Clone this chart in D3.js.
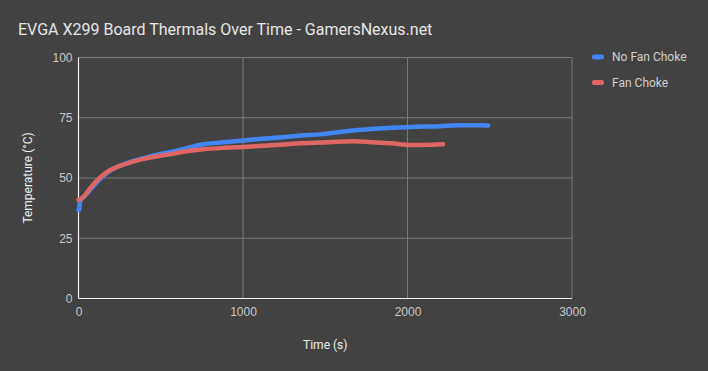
<!DOCTYPE html>
<meta charset="utf-8">
<style>
  body { margin: 0; background: #424242; }
  svg { display: block; font-family: Roboto, sans-serif; }
  .grid line { stroke: #7b7b7b; stroke-width: 1; }
  .tick text { fill: #c8c8c8; font-size: 12px; }
  .title { fill: #e6e6e6; font-size: 16px; }
  .axis-title { fill: #eeeeee; font-size: 12px; }
  .legend text { fill: #d0d0d0; font-size: 12px; }
</style>
<svg width="708" height="371"></svg>
<script src="https://d3js.org/d3.v7.min.js"></script>
<script>
// series: [time s, temperature °C]
var noFanChoke = [
  [0, 36.8], [5, 37], [8, 39.5], [15, 41], [33, 42.2], [74, 45.3],
  [125, 49.2], [175, 52.2], [277, 55.8], [378, 57.9], [479, 59.7],
  [560, 60.8], [650, 62.3], [760, 64], [880, 64.8], [1000, 65.6],
  [1130, 66.4], [1270, 67.1], [1350, 67.6], [1470, 68.1], [1550, 68.8],
  [1670, 69.7], [1800, 70.4], [2020, 71.2], [2200, 71.5], [2300, 71.9],
  [2490, 71.8]
];
var fanChoke = [
  [0, 41], [15, 41.3], [33, 42.4], [74, 46], [125, 49.8], [175, 52.5],
  [277, 55.6], [378, 57.6], [479, 59], [560, 59.9], [650, 61],
  [760, 61.9], [880, 62.5], [1000, 62.9], [1130, 63.4], [1270, 64],
  [1350, 64.4], [1470, 64.7], [1670, 65.2], [1800, 64.8], [1900, 64.4],
  [2015, 63.7], [2150, 63.8], [2216, 64]
];
var seriesNames = ["No Fan Choke", "Fan Choke"];
var seriesColors = ["#4285f4", "#e06666"];
var xTicks = [0, 1000, 2000, 3000];
var yTicks = [0, 25, 50, 75, 100];

var svg = d3.select("svg");
var plotLeft = 78.5, plotRight = 572, plotTop = 57.5, plotBottom = 298.5;

var x = d3.scaleLinear().domain([0, 3000]).range([plotLeft, plotRight]);
var y = d3.scaleLinear().domain([0, 100]).range([plotBottom, plotTop]);

// title
svg.append("text")
    .attr("class", "title")
    .attr("x", 18)
    .attr("y", 35)
    .text("EVGA X299 Board Thermals Over Time - GamersNexus.net");

// grid
var grid = svg.append("g").attr("class", "grid");
grid.selectAll(".gy")
    .data(yTicks.slice(1))
    .enter().append("line")
    .attr("x1", plotLeft).attr("x2", plotRight)
    .attr("y1", function(d) { return y(d); })
    .attr("y2", function(d) { return y(d); });
grid.selectAll(".gx")
    .data(xTicks.slice(1))
    .enter().append("line")
    .attr("y1", plotTop).attr("y2", plotBottom)
    .attr("x1", function(d) { return x(d); })
    .attr("x2", function(d) { return x(d); });

// axes
var yAxis = svg.append("g")
    .attr("transform", "translate(" + (plotLeft - 6) + ",0)")
    .call(d3.axisLeft(y).tickValues(yTicks).tickFormat(d3.format("d")).tickSize(0).tickPadding(0));
yAxis.select(".domain").remove();

var xAxis = svg.append("g")
    .attr("transform", "translate(0," + (plotBottom + 7) + ")")
    .call(d3.axisBottom(x).tickValues(xTicks).tickFormat(d3.format("d")).tickSize(0).tickPadding(0));
xAxis.select(".domain").remove();
xAxis.selectAll("text").attr("dy", "0.9em");

svg.append("line")
    .attr("x1", plotLeft).attr("x2", plotLeft).attr("y1", plotTop).attr("y2", plotBottom)
    .attr("stroke", "#f2f2f2").attr("stroke-width", 1.2);
svg.append("line")
    .attr("x1", plotLeft).attr("x2", plotRight).attr("y1", plotBottom).attr("y2", plotBottom)
    .attr("stroke", "#f2f2f2").attr("stroke-width", 1.2);

// axis titles
svg.append("text")
    .attr("class", "axis-title")
    .attr("x", x(1500))
    .attr("y", 349)
    .attr("text-anchor", "middle")
    .text("Time (s)");
svg.append("text")
    .attr("class", "axis-title")
    .attr("transform", "translate(32," + ((plotTop + plotBottom) / 2) + ") rotate(-90)")
    .attr("text-anchor", "middle")
    .text("Temperature (°C)");

// lines
var line = d3.line()
    .x(function(d) { return x(d[0]); })
    .y(function(d) { return y(d[1]); })
    .curve(d3.curveMonotoneX);

[noFanChoke, fanChoke].forEach(function(data, i) {
  svg.append("path")
      .datum(data)
      .attr("fill", "none")
      .attr("stroke", seriesColors[i])
      .attr("stroke-width", 4.5)
      .attr("stroke-linejoin", "round")
      .attr("stroke-linecap", "round")
      .attr("d", line);
});

// legend
var legend = svg.append("g").attr("class", "legend")
    .selectAll("g")
    .data(seriesNames)
    .enter().append("g")
    .attr("transform", function(d, i) { return "translate(592," + (57 + i * 25.5) + ")"; });
legend.append("rect")
    .attr("x", 0).attr("y", -2.5)
    .attr("width", 12).attr("height", 5)
    .attr("rx", 2)
    .attr("fill", function(d, i) { return seriesColors[i]; });
legend.append("text")
    .attr("x", 20)
    .attr("dy", "0.35em")
    .text(function(d) { return d; });
</script>
